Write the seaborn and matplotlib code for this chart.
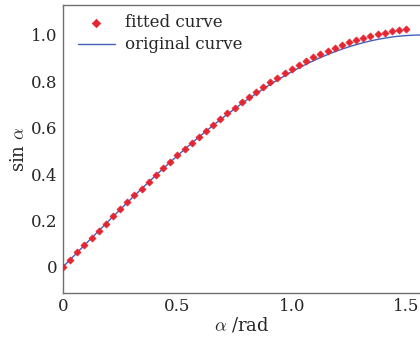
import matplotlib
matplotlib.use("Agg")
import matplotlib.pyplot as plt
import seaborn as sns
import pandas as pd

# fitted curve samples
fit_x = [0.0, 0.03125, 0.0625, 0.09375, 0.125, 0.15625, 0.1875, 0.21875, 0.25,
         0.28125, 0.3125, 0.34375, 0.375, 0.40625, 0.4375, 0.46875, 0.5,
         0.53125, 0.5625, 0.59375, 0.625, 0.65625, 0.6875, 0.71875, 0.75,
         0.78125, 0.8125, 0.84375, 0.875, 0.90625, 0.9375, 0.96875, 1.0,
         1.03125, 1.0625, 1.09375, 1.125, 1.15625, 1.1875, 1.21875, 1.25,
         1.28125, 1.3125, 1.34375, 1.375, 1.40625, 1.4375, 1.46875, 1.5]
fit_y = [0.000, 0.031, 0.063, 0.094, 0.125, 0.156, 0.187, 0.218, 0.248,
         0.278, 0.308, 0.338, 0.367, 0.396, 0.425, 0.453, 0.481,
         0.508, 0.535, 0.562, 0.588, 0.613, 0.639, 0.663, 0.687,
         0.711, 0.733, 0.755, 0.776, 0.796, 0.815, 0.834, 0.853,
         0.871, 0.887, 0.903, 0.918, 0.932, 0.945, 0.957, 0.968,
         0.978, 0.988, 0.996, 1.004, 1.010, 1.016, 1.020, 1.024]

# original curve
orig_x = fit_x + [1.53125, 1.5625, 1.5708]
orig_y = [0.0000, 0.0312, 0.0625, 0.0936, 0.1247, 0.1556, 0.1864, 0.2170, 0.2474,
          0.2775, 0.3074, 0.3370, 0.3663, 0.3952, 0.4237, 0.4518, 0.4794,
          0.5066, 0.5333, 0.5594, 0.5851, 0.6102, 0.6347, 0.6586, 0.6816,
          0.7042, 0.7260, 0.7471, 0.7675, 0.7872, 0.8061, 0.8242, 0.8415,
          0.8580, 0.8736, 0.8885, 0.9024, 0.9155, 0.9276, 0.9389, 0.9490,
          0.9583, 0.9668, 0.9743, 0.9809, 0.9864, 0.9913, 0.9949, 0.9975,
          0.9992, 1.0000, 1.0000]

x_ticks = [0, 0.5, 1.0, 1.5]
x_labels = ["0", "0.5", "1.0", "1.5"]
y_ticks = [0, 0.2, 0.4, 0.6, 0.8, 1.0]
y_labels = ["0", "0.2", "0.4", "0.6", "0.8", "1.0"]

sns.set_style("white")
plt.rcParams["font.family"] = ["DejaVu Serif"]
plt.rcParams["mathtext.fontset"] = "cm"
plt.rcParams["font.size"] = 12

fig = plt.figure(figsize=(4.2, 3.45), dpi=100)
ax = fig.add_axes([0.15, 0.151, 0.853, 0.835])

fit_df = pd.DataFrame({"x": fit_x, "y": fit_y})
orig_df = pd.DataFrame({"x": orig_x, "y": orig_y})

sns.lineplot(data=orig_df, x="x", y="y", ax=ax, color="#4260c0",
             linewidth=1.0, label="original curve", zorder=2)
sns.scatterplot(data=fit_df, x="x", y="y", ax=ax, marker="D", s=13,
                color="#e52530", edgecolor="#e52530", linewidth=0.5,
                label="fitted curve", zorder=3)
for coll in ax.collections:
    coll.set_snap(False)

ax.set_xlim(0, 1.566)
ax.set_ylim(-0.112, 1.13)
ax.set_xticks(x_ticks)
ax.set_xticklabels(x_labels)
ax.set_yticks(y_ticks)
ax.set_yticklabels(y_labels)
ax.tick_params(direction="in", length=3, width=0.8, color="#707070",
               labelsize=12, pad=4)
for sp in ax.spines.values():
    sp.set_color("#707070")
    sp.set_linewidth(1.0)

ax.set_xlabel(r"$\alpha$ /rad", fontsize=13, labelpad=0)
ax.set_ylabel(r"sin $\alpha$", fontsize=13, labelpad=2)

handles, labels = ax.get_legend_handles_labels()
ax.legend(handles[::-1], labels[::-1], loc="upper left", frameon=False,
          bbox_to_anchor=(0.023, 0.99), borderaxespad=0,
          fontsize=12, handlelength=2.2, handletextpad=0.6,
          labelspacing=0.3, markerscale=1.2)

fig.savefig("out.png", dpi=100)
